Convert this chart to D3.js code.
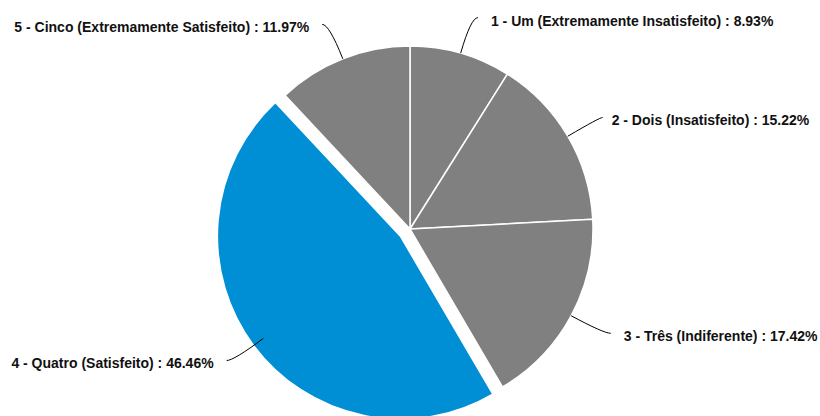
<!DOCTYPE html>
<html><head><meta charset="utf-8">
<script src="https://cdn.jsdelivr.net/npm/d3@7"></script>
<style>body{margin:0;background:#fff}svg{display:block}</style>
</head><body>
<svg id="c" width="820" height="416"></svg>
<script>
const categories = ["1 - Um (Extremamente Insatisfeito)", "2 - Dois (Insatisfeito)", "3 - Três (Indiferente)", "4 - Quatro (Satisfeito)", "5 - Cinco (Extremamente Satisfeito)"];
const values = [8.93, 15.22, 17.42, 46.46, 11.97];
const highlighted = [false, false, false, true, false];
const colors = ["#808080", "#808080", "#808080", "#008fd5", "#808080"];
// horizontal label nudges (layout only)
const labelNudge = [0, -8, 0, 0, 0];

const W = 820, H = 416, cx = 410, cy = 229, r = 183, explode = 12, R2 = 220;
const svg = d3.select("#c");
const data = categories.map((c, i) => ({ cat: c, val: values[i], hl: highlighted[i], color: colors[i], nudge: labelNudge[i] }));
const pie = d3.pie().sort(null).value(d => d.val);
const arcs = pie(data);
const arc = d3.arc().innerRadius(0).outerRadius(r);
const g = svg.append("g").attr("transform", `translate(${cx},${cy})`);

g.selectAll("path.slice").data(arcs).join("path")
  .attr("class", "slice")
  .attr("d", arc)
  .attr("fill", d => d.data.color)
  .attr("stroke", "#fff").attr("stroke-width", 1.5).attr("stroke-linejoin", "round")
  .attr("transform", d => {
    if (!d.data.hl) return null;
    const m = (d.startAngle + d.endAngle) / 2;
    return `translate(${Math.sin(m) * explode},${-Math.cos(m) * explode})`;
  });

arcs.forEach(d => {
  const m = (d.startAngle + d.endAngle) / 2;
  const s = Math.sin(m), c = -Math.cos(m);
  const sign = s >= 0 ? 1 : -1;
  const sx = s * r, sy = c * r;
  const px = s * R2, py = c * R2;
  const ex = px + sign * 7 + d.data.nudge / 2, ey = py;
  g.append("path")
    .attr("d", `M${sx},${sy}Q${px},${py} ${ex},${ey}`)
    .attr("fill", "none").attr("stroke", "#000").attr("stroke-width", 1);
  g.append("text")
    .attr("x", px + sign * 20 + d.data.nudge).attr("y", ey + 3)
    .attr("dy", "0.35em")
    .attr("text-anchor", sign > 0 ? "start" : "end")
    .attr("font-family", "'Liberation Sans', Arial, sans-serif")
    .attr("font-weight", "bold").attr("font-size", 14)
    .attr("fill", "#111")
    .text(`${d.data.cat} : ${d3.format(".2f")(d.data.val)}%`);
});
</script>
</body></html>
